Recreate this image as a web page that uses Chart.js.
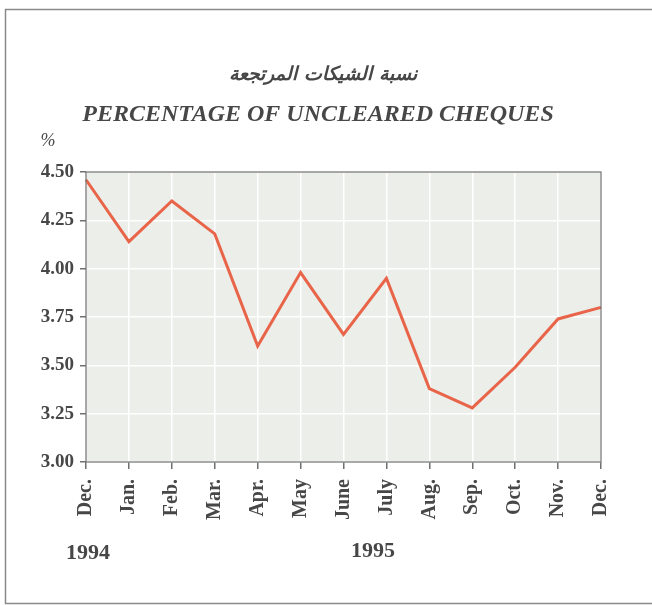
<!DOCTYPE html>
<html>
<head>
<meta charset="utf-8">
<script src="https://cdn.jsdelivr.net/npm/chart.js@4"></script>
<style>
	html, body { margin: 0; padding: 0; background: #ffffff; }
	#wrap { position: relative; width: 652px; height: 605px; }
</style>
</head>
<body>
<div id="wrap"><canvas id="chequesChart" width="652" height="605"></canvas></div>
<script>
// Data
const months = ["Dec.", "Jan.", "Feb.", "Mar.", "Apr.", "May", "June", "July", "Aug.", "Sep.", "Oct.", "Nov.", "Dec."];
const unclearedPct = [4.46, 4.14, 4.35, 4.18, 3.60, 3.98, 3.66, 3.95, 3.38, 3.28, 3.49, 3.74, 3.80];
const yTicks = [3.00, 3.25, 3.50, 3.75, 4.00, 4.25, 4.50];
const titleAr = "نسبة الشيكات المرتجعة";
const titleEn = "PERCENTAGE OF UNCLEARED CHEQUES";
const yearLabels = ["1994", "1995"];

const textColor = "#474747";
const serif = "'Liberation Serif', 'DejaVu Serif', serif";

// Draws the frame, plot background and the free texts
const decorPlugin = {
	id: "decor",
	beforeDraw(chart) {
		const { ctx, chartArea } = chart;
		ctx.save();
		ctx.fillStyle = "#ffffff";
		ctx.fillRect(0, 0, chart.width, chart.height);
		// outer frame
		ctx.strokeStyle = "#8a8a8a";
		ctx.lineWidth = 1.5;
		ctx.strokeRect(5.5, 9.5, 660, 594);
		// plot background
		ctx.fillStyle = "#eceeea";
		ctx.fillRect(chartArea.left, chartArea.top, chartArea.right - chartArea.left, chartArea.bottom - chartArea.top);
		ctx.restore();
	},
	afterDraw(chart) {
		const { ctx, chartArea } = chart;
		ctx.save();
		ctx.strokeStyle = "#707070";
		ctx.lineWidth = 1.2;
		ctx.strokeRect(chartArea.left, chartArea.top, chartArea.right - chartArea.left, chartArea.bottom - chartArea.top);

		ctx.fillStyle = textColor;
		ctx.textAlign = "center";
		ctx.textBaseline = "middle";
		ctx.font = "italic bold 19px 'DejaVu Serif', 'DejaVu Sans', serif";
		ctx.fillText(titleAr, 323, 75);
		ctx.font = "italic bold 24px " + serif;
		ctx.fillText(titleEn, 318, 115);

		ctx.font = "italic 18px " + serif;
		ctx.fillText("%", 48, 141);

		ctx.font = "bold 22px " + serif;
		ctx.fillText(yearLabels[0], 88, 553);
		ctx.fillText(yearLabels[1], 373, 551);
		ctx.restore();
	},
};

const chartConfig = {
	type: "line",
	data: {
		labels: months,
		datasets: [
			{
				label: titleEn,
				data: unclearedPct,
				borderColor: "#e8654a",
				borderWidth: 3,
				pointRadius: 0,
				tension: 0,
				fill: false,
			},
		],
	},
	options: {
		responsive: false,
		animation: false,
		layout: {
			padding: { left: 30, right: 51, top: 172, bottom: 83 },
		},
		plugins: {
			legend: { display: false },
			tooltip: { enabled: false },
		},
		scales: {
			x: {
				offset: false,
				grid: {
					color: "#ffffff",
					lineWidth: 1.5,
					tickColor: "#707070",
					tickLength: 7,
				},
				border: { display: false },
				ticks: {
					color: textColor,
					minRotation: 90,
					maxRotation: 90,
					autoSkip: false,
					padding: 10,
					font: { family: serif, size: 20, weight: "bold" },
				},
				afterFit(scale) {
					scale.height = 60;
				},
			},
			y: {
				min: 3,
				max: 4.5,
				afterBuildTicks(scale) {
					scale.ticks = yTicks.map((v) => ({ value: v }));
				},
				grid: {
					color: "#ffffff",
					lineWidth: 1.5,
					tickColor: "#707070",
					tickLength: 6,
				},
				border: { display: false },
				ticks: {
					color: textColor,
					padding: 6,
					font: { family: serif, size: 19, weight: "bold" },
					callback: function (value) {
						return Number(value).toFixed(2);
					},
				},
				afterFit(scale) {
					scale.width = 56;
				},
			},
		},
	},
	plugins: [decorPlugin],
};

new Chart(document.getElementById("chequesChart"), chartConfig);
</script>
</body>
</html>
